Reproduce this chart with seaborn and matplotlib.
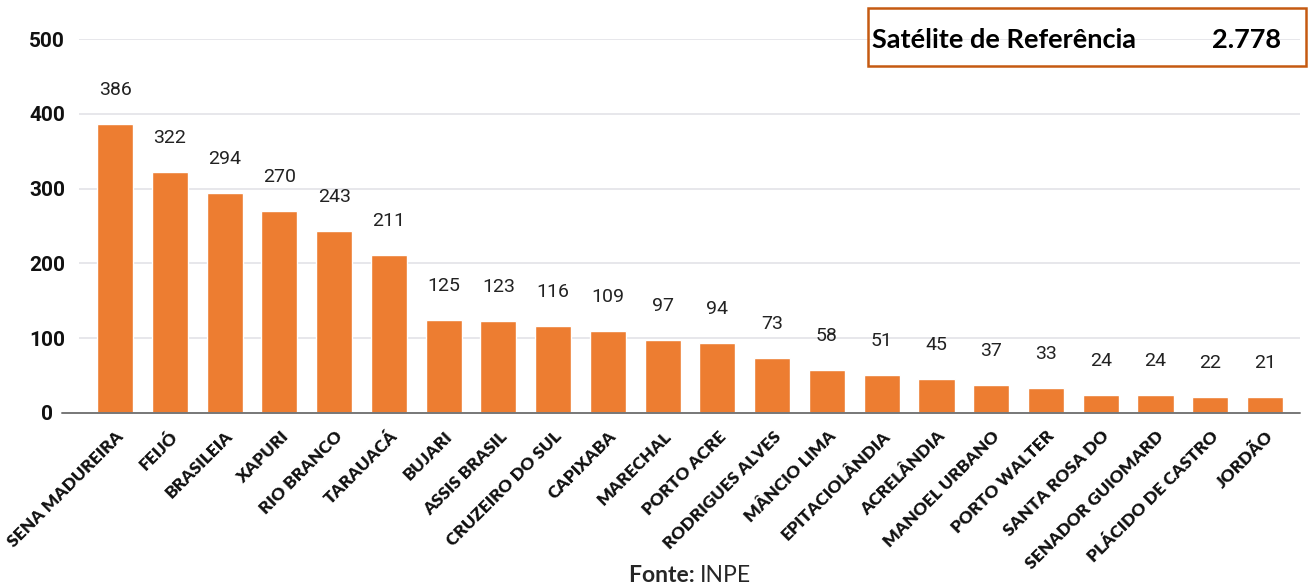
import matplotlib
matplotlib.use("Agg")
import matplotlib.pyplot as plt
import matplotlib.transforms as mtransforms
from matplotlib.patches import Rectangle
import seaborn as sns
import pandas as pd

categories = ["SENA MADUREIRA", "FEIJÓ", "BRASILEIA", "XAPURI", "RIO BRANCO", "TARAUACÁ",
              "BUJARI", "ASSIS BRASIL", "CRUZEIRO DO SUL", "CAPIXABA", "MARECHAL",
              "PORTO ACRE", "RODRIGUES ALVES", "MÂNCIO LIMA", "EPITACIOLÂNDIA", "ACRELÂNDIA",
              "MANOEL URBANO", "PORTO WALTER", "SANTA ROSA DO", "SENADOR GUIOMARD",
              "PLÁCIDO DE CASTRO", "JORDÃO"]
values = [386, 322, 294, 270, 243, 211, 125, 123, 116, 109, 97, 94, 73, 58, 51, 45, 37, 33, 24, 24, 22, 21]
y_ticks = [0, 100, 200, 300, 400, 500]
box_label = "Satélite de Referência"
box_value = "2.778"
source_bold = "Fonte:"
source_text = "INPE"

BAR = "#ED7D31"
sns.set_theme(style="white")
plt.rcParams['font.family'] = ['Roboto', 'DejaVu Sans']
CAL = ["Lato", "DejaVu Sans"]

fig = plt.figure(figsize=(13.12, 5.86), dpi=100)
W, H = 1312, 586
ax = fig.add_axes([79 / W, 1 - 413 / H, (1300 - 79) / W, (413 - 39) / H])

df = pd.DataFrame({"cat": categories, "val": values})
sns.barplot(data=df, x="cat", y="val", color=BAR, saturation=1, width=0.66, ax=ax, zorder=3)

ax.set_ylim(0, 500)
ax.set_xlim(-0.66, len(categories) - 1 + 0.64)
ax.set_yticks(y_ticks)
ax.set_yticklabels([str(t) for t in y_ticks], fontsize=15, fontweight="bold", color="#111111")
for lab in ax.get_yticklabels():
    lab.set_horizontalalignment("center")
ax.tick_params(axis="y", length=0, pad=23)
ax.grid(axis="y", color="#E3E3E8", linewidth=1.2, zorder=0)
ax.grid(axis="x", visible=False)
for s in ax.spines.values():
    s.set_visible(False)
ax.axhline(0, xmin=-0.014, xmax=1, color="#777777", linewidth=1.4, clip_on=False, zorder=4)
ax.set_xlabel("")
ax.set_ylabel("")

ax.set_xticks(range(len(categories)))
ax.set_xticklabels(categories, rotation=45, ha="right", va="center", rotation_mode="anchor",
                   fontsize=12.5, fontweight="heavy", family=CAL, color="#111111")
ax.tick_params(axis="x", length=0, pad=15)
offset = mtransforms.ScaledTranslation(6 / 100, 0, fig.dpi_scale_trans)
for lab in ax.get_xticklabels():
    lab.set_transform(lab.get_transform() + offset)

ax.bar_label(ax.containers[0], labels=[str(v) for v in values], padding=18,
             fontsize=14, color="#222222")

# reference box
fig.patches.append(Rectangle((868 / W, 1 - 66 / H), (1306 - 868) / W, (66 - 8) / H,
                             transform=fig.transFigure, fill=False, edgecolor="#C55A11",
                             linewidth=1.8, zorder=5))
fig.text(872 / W, 1 - 40 / H, box_label, fontsize=19.5, fontweight="bold",
         family=CAL, ha="left", va="center", color="#000000")
fig.text(1281 / W, 1 - 40 / H, box_value, fontsize=19.5, fontweight="bold",
         family=CAL, ha="right", va="center", color="#000000")

fig.text(700 / W, 1 - 575 / H, source_bold + " ", fontsize=16.5, fontweight="bold",
         family=CAL, ha="right", va="center")
fig.text(700 / W, 1 - 575 / H, source_text, fontsize=16.5,
         family=CAL, ha="left", va="center")

fig.savefig("out.png", dpi=100)
